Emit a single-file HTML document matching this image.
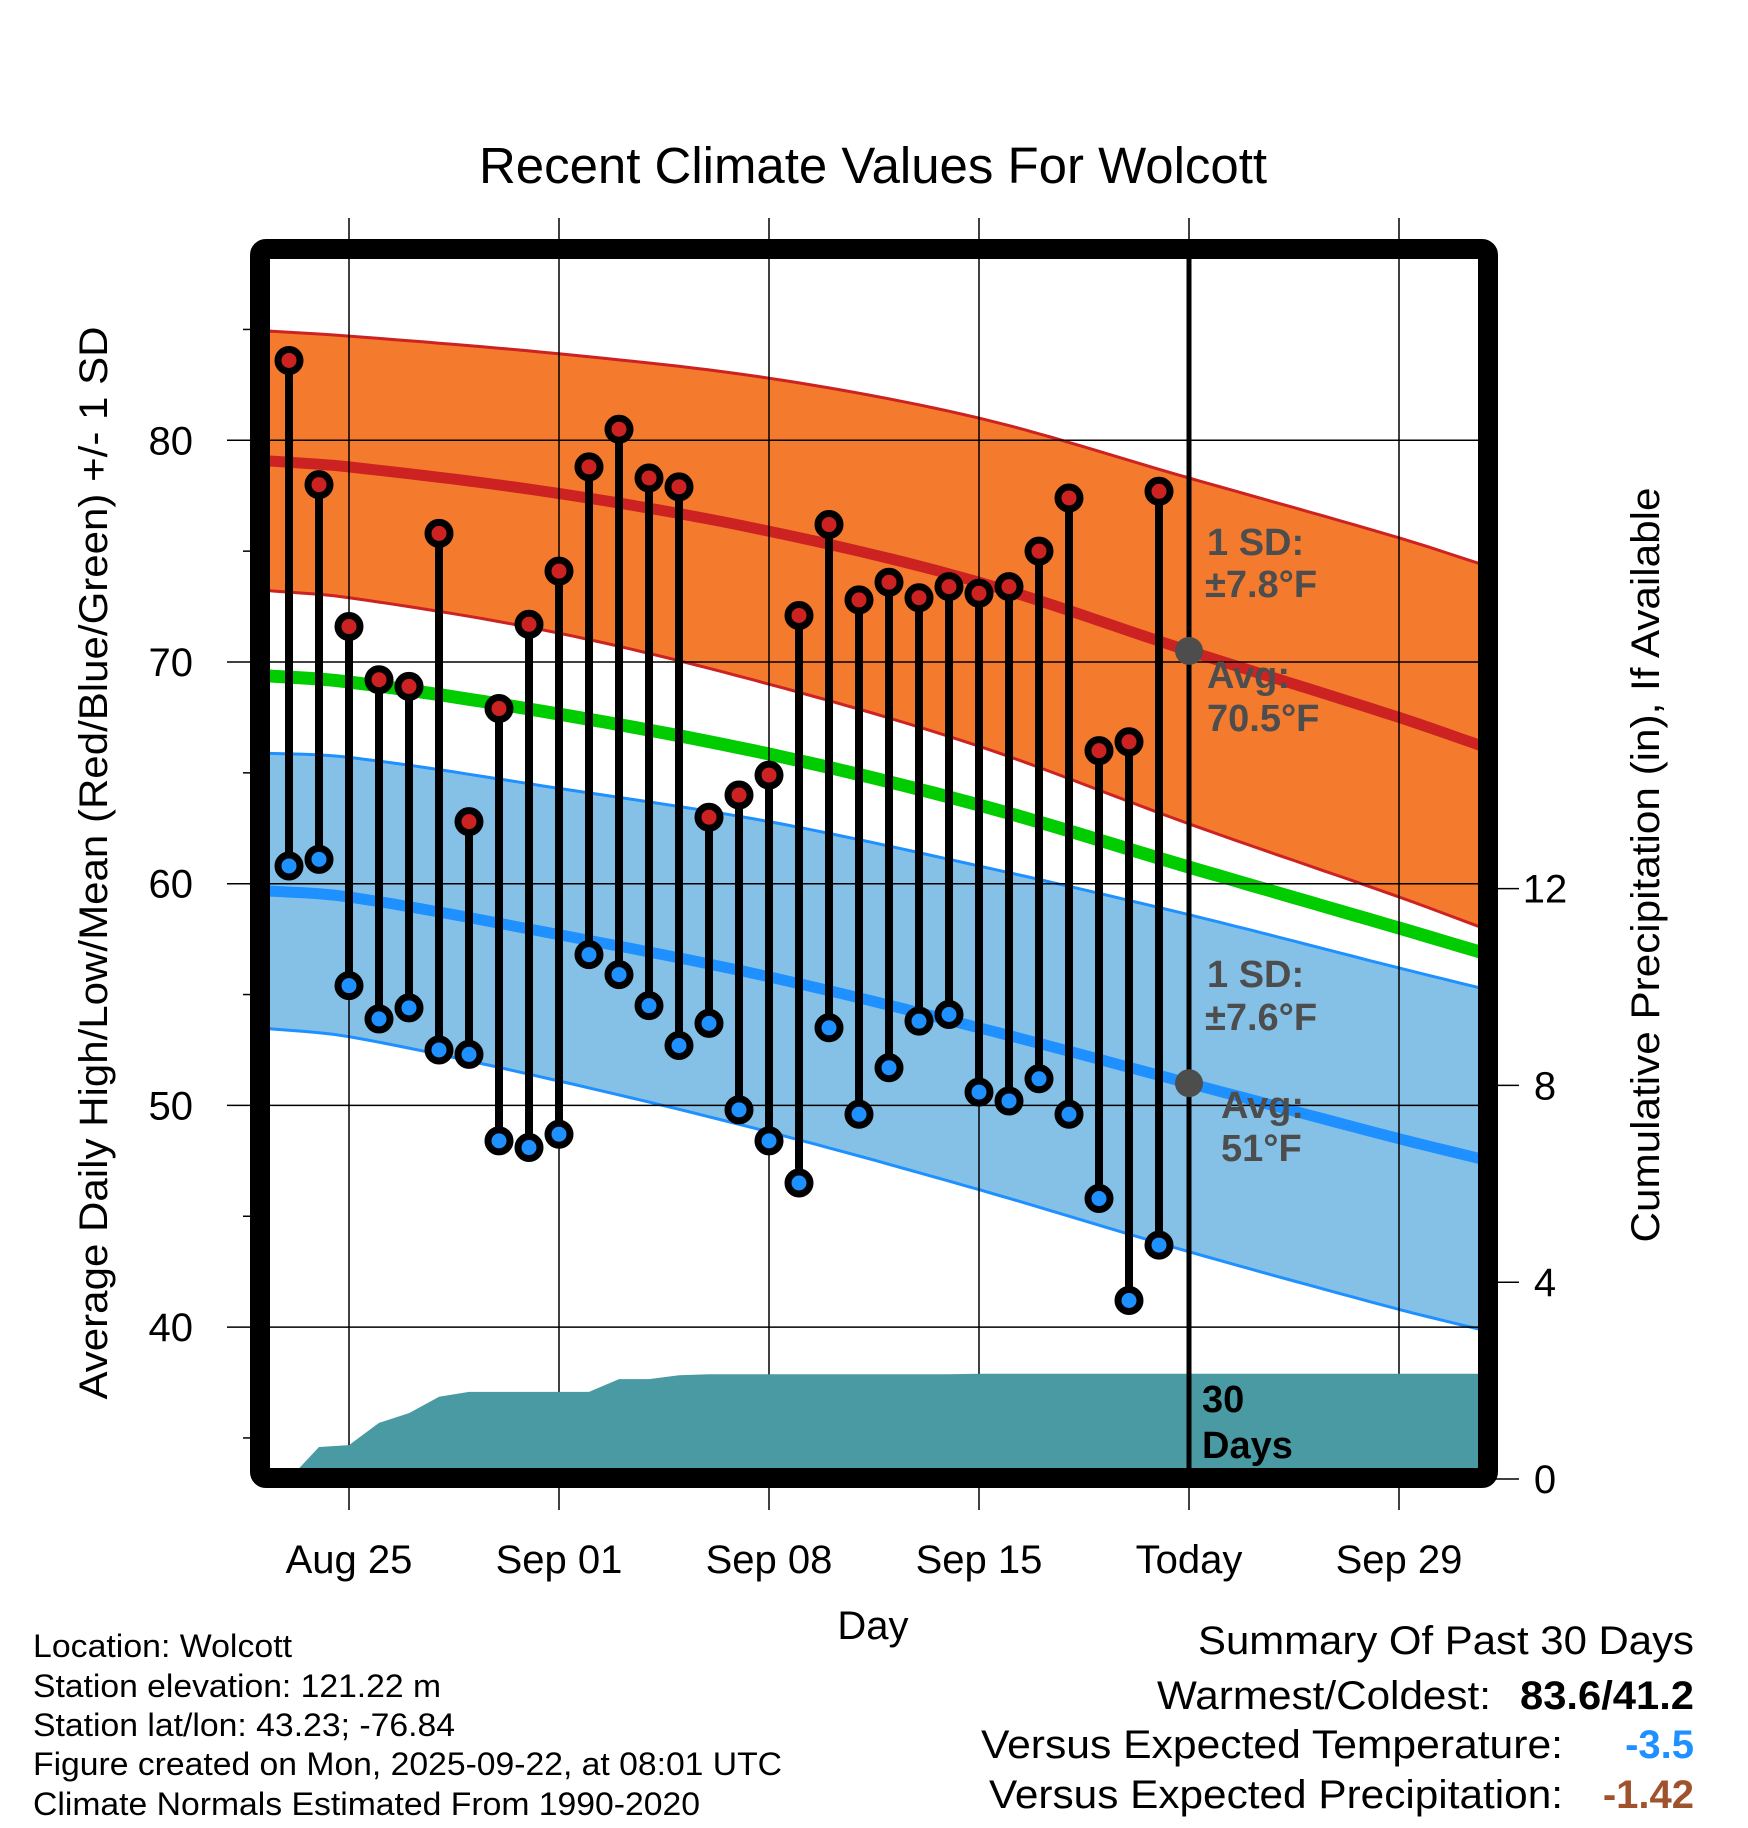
<!DOCTYPE html>
<html><head><meta charset="utf-8"><style>
html,body{margin:0;padding:0;background:#fff;}
svg{display:block;font-family:"Liberation Sans",Arial,sans-serif;}
</style></head><body>
<svg id="chart" width="1748" height="1828" viewBox="0 0 1748 1828" xmlns="http://www.w3.org/2000/svg">
<defs><clipPath id="plotclip"><rect x="270" y="259" width="1208" height="1209"/></clipPath></defs>
<rect width="1748" height="1828" fill="#fff"/>
<g id="bands" clip-path="url(#plotclip)"></g>
<g id="grid"></g>
<g id="precip" clip-path="url(#plotclip)"></g>
<g id="annot"></g>
<g id="marks"></g>
<rect x="260" y="249" width="1228" height="1229" fill="none" stroke="#000" stroke-width="20" rx="6"/>
<g id="axes"></g>
<text x="873" y="183" text-anchor="middle" font-size="51" textLength="788" lengthAdjust="spacingAndGlyphs">Recent Climate Values For Wolcott</text>
<text x="873" y="1639" text-anchor="middle" font-size="40">Day</text>
<text transform="translate(107,863) rotate(-90)" text-anchor="middle" font-size="40" textLength="1073" lengthAdjust="spacingAndGlyphs">Average Daily High/Low/Mean (Red/Blue/Green) +/- 1 SD</text>
<text transform="translate(1659,865) rotate(-90)" text-anchor="middle" font-size="40" textLength="755" lengthAdjust="spacingAndGlyphs">Cumulative Precipitation (in), If Available</text>
<g font-size="32">
<text x="33" y="1657" textLength="259" lengthAdjust="spacingAndGlyphs">Location: Wolcott</text>
<text x="33" y="1697" textLength="408" lengthAdjust="spacingAndGlyphs">Station elevation: 121.22 m</text>
<text x="33" y="1736" textLength="422" lengthAdjust="spacingAndGlyphs">Station lat/lon: 43.23; -76.84</text>
<text x="33" y="1775" textLength="749" lengthAdjust="spacingAndGlyphs">Figure created on Mon, 2025-09-22, at 08:01 UTC</text>
<text x="33" y="1815" textLength="667" lengthAdjust="spacingAndGlyphs">Climate Normals Estimated From 1990-2020</text>
</g>
<g font-size="40">
<text x="1694" y="1654" text-anchor="end" textLength="496" lengthAdjust="spacingAndGlyphs">Summary Of Past 30 Days</text>
<text x="1491" y="1709" text-anchor="end" textLength="334" lengthAdjust="spacingAndGlyphs">Warmest/Coldest:</text>
<text x="1694" y="1709" text-anchor="end" font-weight="bold" textLength="174" lengthAdjust="spacingAndGlyphs">83.6/41.2</text>
<text x="1563" y="1758" text-anchor="end" textLength="582" lengthAdjust="spacingAndGlyphs">Versus Expected Temperature:</text>
<text x="1694" y="1758" text-anchor="end" font-weight="bold" fill="#1e90ff">-3.5</text>
<text x="1563" y="1808" text-anchor="end" textLength="574" lengthAdjust="spacingAndGlyphs">Versus Expected Precipitation:</text>
<text x="1694" y="1808" text-anchor="end" font-weight="bold" fill="#a0522d">-1.42</text>
</g>
</svg>
<script>
// ---- data ----
const dayLabels = ["Aug 25","Sep 01","Sep 08","Sep 15","Today","Sep 29"];
const dayTicks = [0,7,14,21,28,35];           // days after Aug 25
const tempTicks = [40,50,60,70,80];
const tempMinor = [35,45,55,65,75,85];
const precipTicks = [0,4,8,12];
const highs = [83.6,78.0,71.6,69.2,68.9,75.8,62.8,67.9,71.7,74.1,78.8,80.5,78.3,77.9,63.0,64.0,64.9,72.1,76.2,72.8,73.6,72.9,73.4,73.1,73.4,75.0,77.4,66.0,66.4,77.7];
const lows  = [60.8,61.1,55.4,53.9,54.4,52.5,52.3,48.4,48.1,48.7,56.8,55.9,54.5,52.7,53.7,49.8,48.4,46.5,53.5,49.6,51.7,53.8,54.1,50.6,50.2,51.2,49.6,45.8,41.2,43.7];
const precipCum = [0,0.65,0.69,1.14,1.34,1.67,1.77,1.77,1.77,1.77,1.77,2.03,2.03,2.11,2.13,2.13,2.13,2.13,2.13,2.13,2.13,2.13,2.13,2.14,2.14,2.14,2.14,2.14,2.14,2.14];
const firstDay = -2;                            // Aug 23
const normDays = [-3,0,7,14,21,28,35,38];
const normHigh = [79.1,78.8,77.6,75.9,73.6,70.5,67.5,66.1];
const sdHigh   = [5.85,5.9,6.3,6.9,7.4,7.8,8.1,8.2];
const normLow  = [59.7,59.4,57.7,55.8,53.5,51.0,48.5,47.5];
const sdLow    = [6.2,6.3,6.6,7.0,7.3,7.6,7.7,7.7];
const todayDay = 28;

// ---- scales ----
const X = d => 349 + d*30;
const Y = v => 440.3 + (80 - v)*22.17;
const P = p => 1479 - p*49.2;
const NS = "http://www.w3.org/2000/svg";
function mk(tag, attrs, parent){ const e=document.createElementNS(NS,tag); for(const k in attrs) e.setAttribute(k,attrs[k]); parent.appendChild(e); return e; }
const bands=document.getElementById('bands'), grid=document.getElementById('grid'), precip=document.getElementById('precip'), annot=document.getElementById('annot'), marks=document.getElementById('marks'), axes=document.getElementById('axes');

// smooth interpolation (Catmull-Rom over non-uniform knots, parameterized per segment)
function interp(arr, d){
  const n = normDays.length;
  let k = 0;
  while(k < n-2 && d > normDays[k+1]) k++;
  const x0 = normDays[k], x1 = normDays[k+1];
  const t = Math.max(0, Math.min(1, (d - x0)/(x1 - x0)));
  const p1 = arr[k], p2 = arr[k+1];
  const m1 = k>0 ? (arr[k+1]-arr[k-1])/(normDays[k+1]-normDays[k-1])*(x1-x0) : (p2-p1);
  const m2 = k+2<n ? (arr[k+2]-arr[k])/(normDays[k+2]-normDays[k])*(x1-x0) : (p2-p1);
  const t2=t*t, t3=t2*t;
  return (2*t3-3*t2+1)*p1 + (t3-2*t2+t)*m1 + (-2*t3+3*t2)*p2 + (t3-t2)*m2;
}
const sampleDays = [];
for(let d=normDays[0]; d<=normDays[normDays.length-1]+1e-9; d+=0.5) sampleDays.push(d);
function pts(f){ return sampleDays.map(d=>X(d).toFixed(1)+','+Y(f(d)).toFixed(1)); }
function band(fUp, fLo, fill, edge, name){
  const up = pts(fUp), loArr = pts(fLo);
  const p = mk('polygon',{points: up.concat(loArr.slice().reverse()).join(' '), fill: fill},bands);
  
  
  const l1 = mk('polyline',{points: up.join(' '), fill:'none', stroke: edge, 'stroke-width':3},bands);
  
  
  const l2 = mk('polyline',{points: loArr.join(' '), fill:'none', stroke: edge, 'stroke-width':3},bands);
  
  
}
band(d=>interp(normHigh,d)+interp(sdHigh,d), d=>interp(normHigh,d)-interp(sdHigh,d), '#f47a2e', '#cc2222', 'high-sd-band');
band(d=>interp(normLow,d)+interp(sdLow,d), d=>interp(normLow,d)-interp(sdLow,d), '#85c1e6', '#1e90ff', 'low-sd-band');
function line(f, color, w, name){
  const l = mk('polyline',{points: pts(f).join(' '), fill:'none', stroke: color, 'stroke-width': w},bands);
  
  
}
line(d=>interp(normHigh,d), '#cc2222', 11, 'normal-high-line');
line(d=>(interp(normHigh,d)+interp(normLow,d))/2, '#00cc00', 13, 'normal-mean-line');
line(d=>interp(normLow,d), '#1e90ff', 11, 'normal-low-line');

// grid
dayTicks.forEach((d,i)=>{
  const g = mk('line',{x1:X(d),x2:X(d),y1:218,y2:1510,stroke:'#000','stroke-width':1.5},grid);
  
  
  const t = mk('text',{x:X(d),y:1573,'text-anchor':'middle','font-size':40},axes);
  t.textContent = dayLabels[i];
  
  
});
tempTicks.forEach(v=>{
  const g = mk('line',{x1:227,x2:1478,y1:Y(v),y2:Y(v),stroke:'#000','stroke-width':1.5},grid);
  
  
  const t = mk('text',{x:193,y:Y(v)+14,'text-anchor':'end','font-size':40},axes);
  t.textContent = v;
  
  
});
tempMinor.forEach(v=>{
  const g = mk('line',{x1:243,x2:252,y1:Y(v),y2:Y(v),stroke:'#000','stroke-width':1.5},grid);
  
  
});
precipTicks.forEach(p=>{
  const g = mk('line',{x1:1490,x2:1519,y1:P(p),y2:P(p),stroke:'#000','stroke-width':1.5},axes);
  
  
  const t = mk('text',{x:1545,y:P(p)+14,'text-anchor':'middle','font-size':40},axes);
  t.textContent = p;
  
  
});

// precip area
let pp = [X(firstDay)+','+P(0)];
precipCum.forEach((v,i)=>pp.push(X(firstDay+i)+','+P(v).toFixed(1)));
pp.push('1490,'+P(precipCum[precipCum.length-1]).toFixed(1), '1490,1490', X(firstDay)+',1490');
const area = mk('polygon',{points:pp.join(' '),fill:'#4a9aa4'},precip);



// today line
const tl = mk('line',{x1:X(todayDay),x2:X(todayDay),y1:259,y2:1470,stroke:'#000','stroke-width':5},annot);


const ti = normDays.indexOf(todayDay);
[[normHigh[ti],'today-normal-high-dot'],[normLow[ti],'today-normal-low-dot']].forEach(([v,n])=>{
  const c = mk('circle',{cx:X(todayDay),cy:Y(v),r:14,fill:'#4d4d4d'},annot);
  
  
});
const labels = [
  [1207,555,'1 SD:','#4d4d4d','high-sd-label'],[1205,597,'±'+sdHigh[ti].toFixed(1)+'°F','#4d4d4d','high-sd-value'],
  [1207,688,'Avg:','#4d4d4d','high-avg-label'],[1207,731,normHigh[ti].toFixed(1)+'°F','#4d4d4d','high-avg-value'],
  [1207,987,'1 SD:','#4d4d4d','low-sd-label'],[1205,1030,'±'+sdLow[ti].toFixed(1)+'°F','#4d4d4d','low-sd-value'],
  [1221,1118,'Avg:','#4d4d4d','low-avg-label'],[1221,1161,normLow[ti]+'°F','#4d4d4d','low-avg-value'],
  [1202,1412,'30','#000','precip-days-number'],[1202,1458,'Days','#000','precip-days-label']
];
labels.forEach(([x,y,s,c,n])=>{
  const t = mk('text',{x:x,y:y,'font-size':38,'font-weight':'bold',fill:c},annot);
  t.textContent = s;
  
  
});

// stems & points
highs.forEach((h,i)=>{
  const x = X(firstDay+i), l = lows[i];
  const s = mk('line',{x1:x,x2:x,y1:Y(h),y2:Y(l),stroke:'#000','stroke-width':8},marks);
  
  
});
highs.forEach((h,i)=>{
  const x = X(firstDay+i);
  const c1 = mk('circle',{cx:x,cy:Y(h),r:11,fill:'#cc2222',stroke:'#000','stroke-width':7},marks);
  
  
  const c2 = mk('circle',{cx:x,cy:Y(lows[i]),r:11,fill:'#1e90ff',stroke:'#000','stroke-width':7},marks);
  
  
});
</script>
</body></html>
